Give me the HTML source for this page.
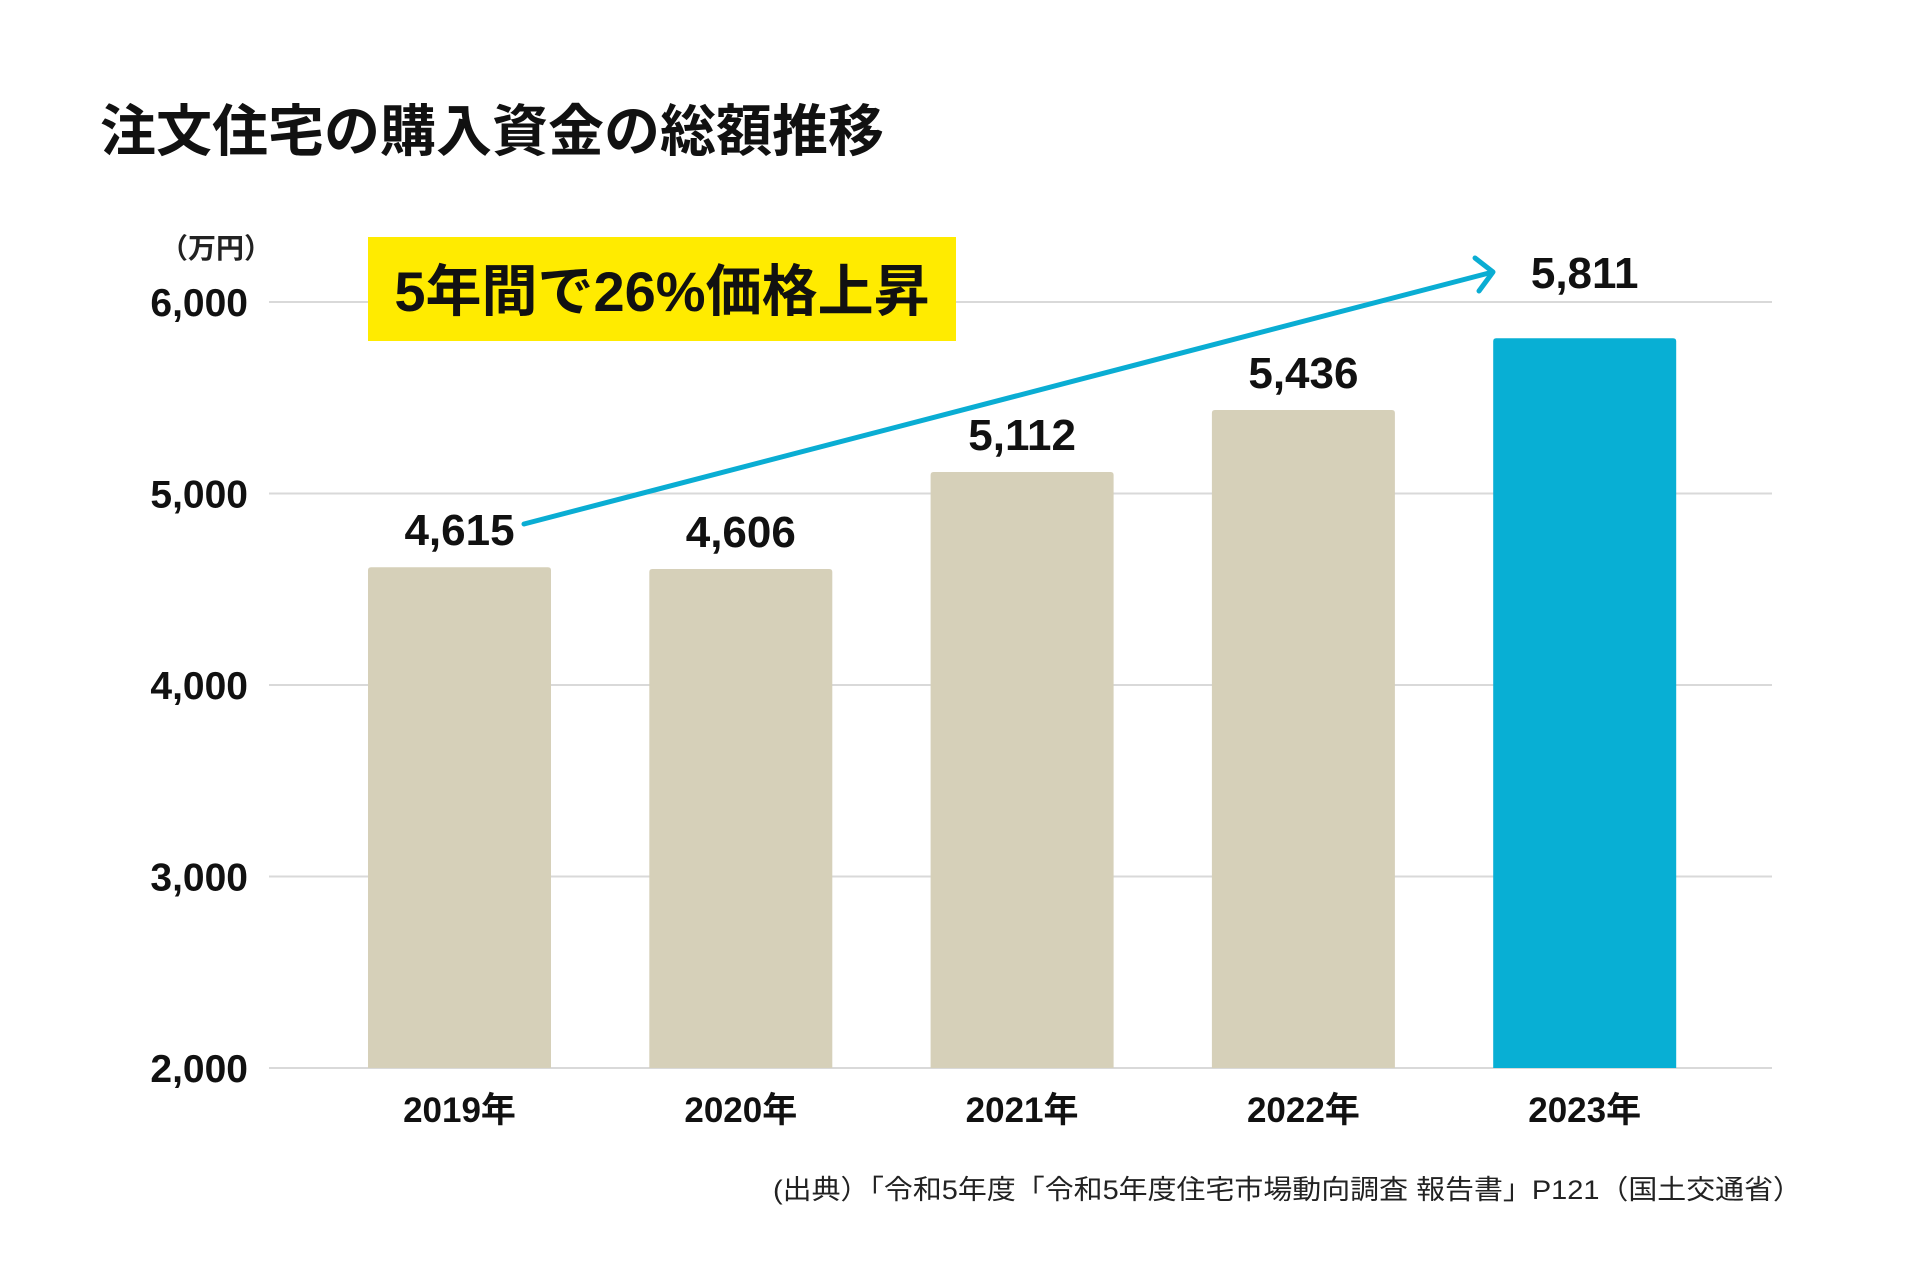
<!DOCTYPE html>
<html><head><meta charset="utf-8">
<style>
html,body{margin:0;padding:0;background:#fff;}
svg{display:block;}
text{font-family:"Liberation Sans","Noto Sans CJK JP",sans-serif;}
</style></head>
<body>
<svg id="chart" width="1920" height="1280" viewBox="0 0 1920 1280">
<text x="100" y="151" font-size="56" font-weight="bold" fill="#111" font-family="'Noto Sans CJK JP',sans-serif">注文住宅の購入資金の総額推移</text>
<text x="216" y="258" font-size="28" font-weight="bold" fill="#222" text-anchor="middle" font-family="'Noto Sans CJK JP',sans-serif">（万円）</text>
<g id="grid"></g>
<g id="yticks"></g>
<g id="bars"></g>
<g id="vals"></g>
<g id="xticks"></g>
<rect x="368" y="237" width="588" height="104" fill="#FFEB00"/>
<text x="662" y="311" font-size="56" font-weight="bold" fill="#111" text-anchor="middle" font-family="'Noto Sans CJK JP',sans-serif">5年間で26%価格上昇</text>
<g>
<line x1="524" y1="524" x2="1489" y2="273" stroke="#0AADD3" stroke-width="5" stroke-linecap="round"/>
<polyline points="1475,258 1493,272 1479,291" fill="none" stroke="#0AADD3" stroke-width="5" stroke-linecap="round" stroke-linejoin="round"/>
</g>
<text x="773" y="1199" font-size="27" fill="#222" textLength="1029" lengthAdjust="spacingAndGlyphs" font-family="'Noto Sans CJK JP',sans-serif">(出典）「令和5年度「令和5年度住宅市場動向調査 報告書」P121（国土交通省）</text>
</svg>
<script>
const categories = ["2019年","2020年","2021年","2022年","2023年"];
const values = [4615,4606,5112,5436,5811];
const valueLabels = ["4,615","4,606","5,112","5,436","5,811"];
const yTicks = [2000,3000,4000,5000,6000];
const yTickLabels = ["2,000","3,000","4,000","5,000","6,000"];

const NS="http://www.w3.org/2000/svg";
function y(v){return 1068-(v-2000)*0.1915;}
function xLeft(i){return 368+i*281.3;}
const BW=183;
function mk(tag,attrs,parent,txt){const e=document.createElementNS(NS,tag);for(const k in attrs)e.setAttribute(k,attrs[k]);if(txt!==undefined)e.textContent=txt;document.getElementById(parent).appendChild(e);return e;}

yTicks.forEach((t,i)=>{
  const l=mk('line',{x1:269,x2:1772,y1:y(t),y2:y(t),stroke:'#d9d9d9','stroke-width':2},'grid');
  
  
  const tx=mk('text',{x:248,y:y(t)+14,'font-size':39,'font-weight':'bold','text-anchor':'end',fill:'#111'},'yticks',yTickLabels[i]);
  
  
});
values.forEach((v,i)=>{
  const last=i===values.length-1;
  const top=y(v),x0=xLeft(i);
  const b=mk('path',{d:`M${x0},${y(2000)} V${top+3} Q${x0},${top} ${x0+3},${top} H${x0+BW-3} Q${x0+BW},${top} ${x0+BW},${top+3} V${y(2000)} Z`,fill:last?'#08AFD4':'#D6D0B9'},'bars');
  
  
  const vl=mk('text',{x:x0+BW/2,y:top-(last?50:22),'font-size':44,'font-weight':'bold','text-anchor':'middle',fill:'#111','font-family':"'Noto Sans CJK JP',sans-serif"},'vals',valueLabels[i]);
  
  
  const xl=mk('text',{x:x0+BW/2,y:1122,'font-size':35,'font-weight':'bold','text-anchor':'middle',fill:'#111'},'xticks',categories[i]);
  
  
});
</script>
</body></html>
